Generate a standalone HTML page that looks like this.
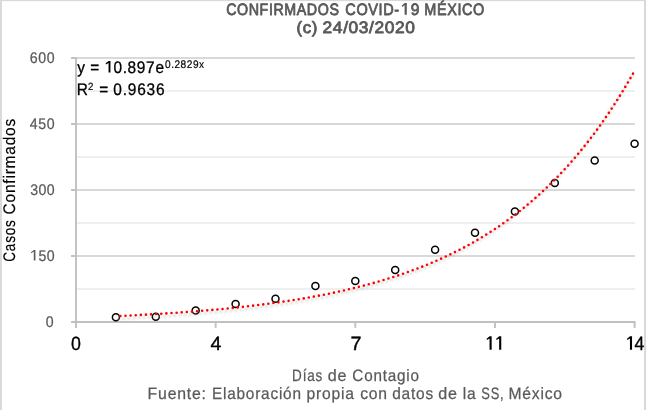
<!DOCTYPE html><html><head><meta charset="utf-8"><style>html,body{margin:0;padding:0;background:#fff;overflow:hidden;}svg{display:block;will-change:transform;}text{font-family:"Liberation Sans",sans-serif;white-space:pre;text-rendering:geometricPrecision;}</style></head><body>
<svg width="647" height="410" viewBox="0 0 647 410">
<defs><filter id="sh" x="-5%" y="-5%" width="110%" height="110%"><feGaussianBlur stdDeviation="0.8"/></filter></defs>
<rect width="647" height="410" fill="#fff"/>
<line x1="76.0" y1="289.00" x2="634.90" y2="289.00" stroke="#efefef" stroke-width="2"/>
<line x1="76.0" y1="223.00" x2="634.90" y2="223.00" stroke="#efefef" stroke-width="2"/>
<line x1="76.0" y1="157.00" x2="634.90" y2="157.00" stroke="#efefef" stroke-width="2"/>
<line x1="76.0" y1="91.00" x2="634.90" y2="91.00" stroke="#efefef" stroke-width="2"/>
<line x1="71.1" y1="256.00" x2="634.90" y2="256.00" stroke="#d9d9d9" stroke-width="1.9"/>
<line x1="71.1" y1="190.00" x2="634.90" y2="190.00" stroke="#d9d9d9" stroke-width="1.9"/>
<line x1="71.1" y1="124.00" x2="634.90" y2="124.00" stroke="#d9d9d9" stroke-width="1.9"/>
<line x1="71.1" y1="58.00" x2="634.90" y2="58.00" stroke="#d9d9d9" stroke-width="1.9"/>
<line x1="76.0" y1="57.05" x2="76.0" y2="327.90" stroke="#c0c0c0" stroke-width="1.9"/>
<line x1="71.1" y1="322.0" x2="635.50" y2="322.0" stroke="#c0c0c0" stroke-width="1.9"/>
<line x1="71.1" y1="256.00" x2="76.0" y2="256.00" stroke="#c0c0c0" stroke-width="1.9"/>
<line x1="71.1" y1="190.00" x2="76.0" y2="190.00" stroke="#c0c0c0" stroke-width="1.9"/>
<line x1="71.1" y1="124.00" x2="76.0" y2="124.00" stroke="#c0c0c0" stroke-width="1.9"/>
<line x1="71.1" y1="58.00" x2="76.0" y2="58.00" stroke="#c0c0c0" stroke-width="1.9"/>
<line x1="215.65" y1="322.0" x2="215.65" y2="327.9" stroke="#c0c0c0" stroke-width="1.9"/>
<line x1="355.30" y1="322.0" x2="355.30" y2="327.9" stroke="#c0c0c0" stroke-width="1.9"/>
<line x1="494.95" y1="322.0" x2="494.95" y2="327.9" stroke="#c0c0c0" stroke-width="1.9"/>
<line x1="634.60" y1="322.0" x2="634.60" y2="327.9" stroke="#c0c0c0" stroke-width="1.9"/>
<circle cx="115.90" cy="317.16" r="3.5" fill="#fff" stroke="#000" stroke-width="1.5"/>
<circle cx="155.80" cy="316.72" r="3.5" fill="#fff" stroke="#000" stroke-width="1.5"/>
<circle cx="195.70" cy="310.56" r="3.5" fill="#fff" stroke="#000" stroke-width="1.5"/>
<circle cx="235.60" cy="303.96" r="3.5" fill="#fff" stroke="#000" stroke-width="1.5"/>
<circle cx="275.50" cy="298.68" r="3.5" fill="#fff" stroke="#000" stroke-width="1.5"/>
<circle cx="315.40" cy="285.92" r="3.5" fill="#fff" stroke="#000" stroke-width="1.5"/>
<circle cx="355.30" cy="281.08" r="3.5" fill="#fff" stroke="#000" stroke-width="1.5"/>
<circle cx="395.20" cy="270.08" r="3.5" fill="#fff" stroke="#000" stroke-width="1.5"/>
<circle cx="435.10" cy="249.84" r="3.5" fill="#fff" stroke="#000" stroke-width="1.5"/>
<circle cx="475.00" cy="232.68" r="3.5" fill="#fff" stroke="#000" stroke-width="1.5"/>
<circle cx="514.90" cy="211.56" r="3.5" fill="#fff" stroke="#000" stroke-width="1.5"/>
<circle cx="554.80" cy="182.96" r="3.5" fill="#fff" stroke="#000" stroke-width="1.5"/>
<circle cx="594.70" cy="160.52" r="3.5" fill="#fff" stroke="#000" stroke-width="1.5"/>
<circle cx="634.60" cy="143.80" r="3.5" fill="#fff" stroke="#000" stroke-width="1.5"/>
<path d="M115.90,316.14 L118.49,316.02 L121.09,315.90 L123.68,315.78 L126.27,315.65 L128.87,315.52 L131.46,315.40 L134.05,315.26 L136.65,315.13 L139.24,314.99 L141.83,314.85 L144.43,314.71 L147.02,314.57 L149.62,314.42 L152.21,314.27 L154.80,314.12 L157.40,313.96 L159.99,313.80 L162.58,313.64 L165.18,313.48 L167.77,313.31 L170.36,313.14 L172.96,312.97 L175.55,312.79 L178.14,312.61 L180.74,312.42 L183.33,312.24 L185.92,312.05 L188.52,311.85 L191.11,311.66 L193.70,311.45 L196.30,311.25 L198.89,311.04 L201.49,310.83 L204.08,310.61 L206.67,310.39 L209.27,310.17 L211.86,309.94 L214.45,309.70 L217.05,309.47 L219.64,309.22 L222.23,308.98 L224.83,308.73 L227.42,308.47 L230.01,308.21 L232.61,307.95 L235.20,307.68 L237.79,307.40 L240.39,307.12 L242.98,306.83 L245.57,306.54 L248.17,306.25 L250.76,305.95 L253.36,305.64 L255.95,305.33 L258.54,305.01 L261.14,304.68 L263.73,304.35 L266.32,304.02 L268.92,303.67 L271.51,303.32 L274.10,302.97 L276.70,302.60 L279.29,302.24 L281.88,301.86 L284.48,301.48 L287.07,301.09 L289.66,300.69 L292.26,300.28 L294.85,299.87 L297.44,299.45 L300.04,299.02 L302.63,298.59 L305.23,298.14 L307.82,297.69 L310.41,297.23 L313.01,296.76 L315.60,296.29 L318.19,295.80 L320.79,295.30 L323.38,294.80 L325.97,294.28 L328.57,293.76 L331.16,293.23 L333.75,292.68 L336.35,292.13 L338.94,291.57 L341.53,290.99 L344.13,290.41 L346.72,289.81 L349.31,289.21 L351.91,288.59 L354.50,287.96 L357.10,287.32 L359.69,286.66 L362.28,286.00 L364.88,285.32 L367.47,284.63 L370.06,283.93 L372.66,283.21 L375.25,282.48 L377.84,281.74 L380.44,280.99 L383.03,280.22 L385.62,279.43 L388.22,278.63 L390.81,277.82 L393.40,276.99 L396.00,276.14 L398.59,275.28 L401.19,274.41 L403.78,273.51 L406.37,272.61 L408.97,271.68 L411.56,270.74 L414.15,269.78 L416.75,268.80 L419.34,267.80 L421.93,266.78 L424.53,265.75 L427.12,264.70 L429.71,263.63 L432.31,262.53 L434.90,261.42 L437.49,260.29 L440.09,259.13 L442.68,257.96 L445.27,256.76 L447.87,255.54 L450.46,254.29 L453.05,253.03 L455.65,251.74 L458.24,250.43 L460.84,249.09 L463.43,247.73 L466.02,246.34 L468.62,244.93 L471.21,243.49 L473.80,242.02 L476.40,240.53 L478.99,239.00 L481.58,237.45 L484.18,235.88 L486.77,234.27 L489.36,232.63 L491.96,230.96 L494.55,229.26 L497.14,227.53 L499.74,225.77 L502.33,223.98 L504.93,222.15 L507.52,220.29 L510.11,218.39 L512.71,216.46 L515.30,214.49 L517.89,212.48 L520.49,210.44 L523.08,208.36 L525.67,206.24 L528.27,204.09 L530.86,201.89 L533.45,199.65 L536.05,197.37 L538.64,195.05 L541.23,192.68 L543.83,190.27 L546.42,187.82 L549.01,185.32 L551.61,182.78 L554.20,180.18 L556.80,177.54 L559.39,174.85 L561.98,172.11 L564.58,169.32 L567.17,166.48 L569.76,163.58 L572.36,160.63 L574.95,157.63 L577.54,154.57 L580.14,151.45 L582.73,148.28 L585.32,145.04 L587.92,141.75 L590.51,138.40 L593.10,134.98 L595.70,131.50 L598.29,127.95 L600.88,124.34 L603.48,120.67 L606.07,116.92 L608.66,113.11 L611.26,109.22 L613.85,105.26 L616.45,101.23 L619.04,97.12 L621.63,92.94 L624.23,88.68 L626.82,84.34 L629.41,79.92 L632.01,75.42 L634.60,70.83" fill="none" stroke="#a8a8a8" stroke-width="2.6" stroke-linecap="round" stroke-dasharray="0 5.12" stroke-dashoffset="0.62" transform="translate(-1.8,2.9)" filter="url(#sh)" opacity="0.55"/>
<path d="M115.90,316.14 L118.49,316.02 L121.09,315.90 L123.68,315.78 L126.27,315.65 L128.87,315.52 L131.46,315.40 L134.05,315.26 L136.65,315.13 L139.24,314.99 L141.83,314.85 L144.43,314.71 L147.02,314.57 L149.62,314.42 L152.21,314.27 L154.80,314.12 L157.40,313.96 L159.99,313.80 L162.58,313.64 L165.18,313.48 L167.77,313.31 L170.36,313.14 L172.96,312.97 L175.55,312.79 L178.14,312.61 L180.74,312.42 L183.33,312.24 L185.92,312.05 L188.52,311.85 L191.11,311.66 L193.70,311.45 L196.30,311.25 L198.89,311.04 L201.49,310.83 L204.08,310.61 L206.67,310.39 L209.27,310.17 L211.86,309.94 L214.45,309.70 L217.05,309.47 L219.64,309.22 L222.23,308.98 L224.83,308.73 L227.42,308.47 L230.01,308.21 L232.61,307.95 L235.20,307.68 L237.79,307.40 L240.39,307.12 L242.98,306.83 L245.57,306.54 L248.17,306.25 L250.76,305.95 L253.36,305.64 L255.95,305.33 L258.54,305.01 L261.14,304.68 L263.73,304.35 L266.32,304.02 L268.92,303.67 L271.51,303.32 L274.10,302.97 L276.70,302.60 L279.29,302.24 L281.88,301.86 L284.48,301.48 L287.07,301.09 L289.66,300.69 L292.26,300.28 L294.85,299.87 L297.44,299.45 L300.04,299.02 L302.63,298.59 L305.23,298.14 L307.82,297.69 L310.41,297.23 L313.01,296.76 L315.60,296.29 L318.19,295.80 L320.79,295.30 L323.38,294.80 L325.97,294.28 L328.57,293.76 L331.16,293.23 L333.75,292.68 L336.35,292.13 L338.94,291.57 L341.53,290.99 L344.13,290.41 L346.72,289.81 L349.31,289.21 L351.91,288.59 L354.50,287.96 L357.10,287.32 L359.69,286.66 L362.28,286.00 L364.88,285.32 L367.47,284.63 L370.06,283.93 L372.66,283.21 L375.25,282.48 L377.84,281.74 L380.44,280.99 L383.03,280.22 L385.62,279.43 L388.22,278.63 L390.81,277.82 L393.40,276.99 L396.00,276.14 L398.59,275.28 L401.19,274.41 L403.78,273.51 L406.37,272.61 L408.97,271.68 L411.56,270.74 L414.15,269.78 L416.75,268.80 L419.34,267.80 L421.93,266.78 L424.53,265.75 L427.12,264.70 L429.71,263.63 L432.31,262.53 L434.90,261.42 L437.49,260.29 L440.09,259.13 L442.68,257.96 L445.27,256.76 L447.87,255.54 L450.46,254.29 L453.05,253.03 L455.65,251.74 L458.24,250.43 L460.84,249.09 L463.43,247.73 L466.02,246.34 L468.62,244.93 L471.21,243.49 L473.80,242.02 L476.40,240.53 L478.99,239.00 L481.58,237.45 L484.18,235.88 L486.77,234.27 L489.36,232.63 L491.96,230.96 L494.55,229.26 L497.14,227.53 L499.74,225.77 L502.33,223.98 L504.93,222.15 L507.52,220.29 L510.11,218.39 L512.71,216.46 L515.30,214.49 L517.89,212.48 L520.49,210.44 L523.08,208.36 L525.67,206.24 L528.27,204.09 L530.86,201.89 L533.45,199.65 L536.05,197.37 L538.64,195.05 L541.23,192.68 L543.83,190.27 L546.42,187.82 L549.01,185.32 L551.61,182.78 L554.20,180.18 L556.80,177.54 L559.39,174.85 L561.98,172.11 L564.58,169.32 L567.17,166.48 L569.76,163.58 L572.36,160.63 L574.95,157.63 L577.54,154.57 L580.14,151.45 L582.73,148.28 L585.32,145.04 L587.92,141.75 L590.51,138.40 L593.10,134.98 L595.70,131.50 L598.29,127.95 L600.88,124.34 L603.48,120.67 L606.07,116.92 L608.66,113.11 L611.26,109.22 L613.85,105.26 L616.45,101.23 L619.04,97.12 L621.63,92.94 L624.23,88.68 L626.82,84.34 L629.41,79.92 L632.01,75.42 L634.60,70.83" fill="none" stroke="#ff0000" stroke-width="2.6" stroke-linecap="round" stroke-dasharray="0 5.12" stroke-dashoffset="0.62"/>
<rect x="0" y="0" width="1.9" height="410" fill="#d9d9d9"/>
<rect x="0" y="0" width="646" height="1.1" fill="#d9d9d9"/>
<rect x="644" y="0" width="2.1" height="410" fill="#d9d9d9"/>
<text transform="scale(0.8628,1)" x="262.13" y="15" font-size="16.5" fill="#595959" stroke="#595959" stroke-width="0.8" stroke-linejoin="round" textLength="130.70" lengthAdjust="spacing">CONFIRMADOS</text>
<text transform="scale(0.8793,1)" x="392.76" y="15" font-size="16.5" fill="#595959" stroke="#595959" stroke-width="0.8" stroke-linejoin="round" textLength="61.16" lengthAdjust="spacing">COVID-</text>
<text transform="scale(0.9447,1)" x="434.82" y="15" font-size="16.5" fill="#595959" stroke="#595959" stroke-width="0.8" stroke-linejoin="round" textLength="9.18" lengthAdjust="spacingAndGlyphs">9</text>
<text transform="scale(0.8769,1)" x="483.86" y="15" font-size="16.5" fill="#595959" stroke="#595959" stroke-width="0.8" stroke-linejoin="round" textLength="68.51" lengthAdjust="spacing">MÉXICO</text>
<path d="M404.60,14.80 L404.60,5.20 L402.20,7.00 L401.90,5.46 L404.70,3.00 L406.80,3.00 L406.80,14.80Z" fill="#595959"/>
<text transform="scale(1.0179,1)" x="291.26" y="33" font-size="16.5" fill="#595959" stroke="#595959" stroke-width="0.8" stroke-linejoin="round" textLength="20.42" lengthAdjust="spacing">(c)</text>
<text transform="scale(1.0529,1)" x="306.41" y="33" font-size="16.5" fill="#595959" stroke="#595959" stroke-width="0.8" stroke-linejoin="round" textLength="87.71" lengthAdjust="spacing">24/03/2020</text>
<text transform="scale(0.92,1)" x="49.83" y="326.60" font-size="15.4" fill="#595959" stroke="#595959" stroke-width="0.25" stroke-linejoin="round" textLength="8.56" lengthAdjust="spacingAndGlyphs">0</text>
<text transform="scale(0.92,1)" x="41.77" y="260.60" font-size="15.4" fill="#595959" stroke="#595959" stroke-width="0.25" stroke-linejoin="round" textLength="17.52" lengthAdjust="spacing">50</text>
<text transform="scale(0.92,1)" x="32.78" y="194.60" font-size="15.4" fill="#595959" stroke="#595959" stroke-width="0.25" stroke-linejoin="round" textLength="26.51" lengthAdjust="spacing">300</text>
<text transform="scale(0.92,1)" x="32.47" y="128.60" font-size="15.4" fill="#595959" stroke="#595959" stroke-width="0.25" stroke-linejoin="round" textLength="26.82" lengthAdjust="spacing">450</text>
<text transform="scale(0.92,1)" x="32.26" y="62.60" font-size="15.4" fill="#595959" stroke="#595959" stroke-width="0.25" stroke-linejoin="round" textLength="27.04" lengthAdjust="spacing">600</text>
<path d="M33.80,260.60 L33.80,251.50 L31.30,253.30 L31.00,252.18 L33.90,249.90 L35.40,249.90 L35.40,260.60Z" fill="#595959"/>
<text x="70.91" y="350" font-size="19.2" fill="#000" stroke="#000" stroke-width="0.35" stroke-linejoin="round" textLength="9.89" lengthAdjust="spacingAndGlyphs">0</text>
<text x="210.55" y="350" font-size="19.2" fill="#000" stroke="#000" stroke-width="0.35" stroke-linejoin="round" textLength="10.82" lengthAdjust="spacingAndGlyphs">4</text>
<text x="350.48" y="350" font-size="19.2" fill="#000" stroke="#000" stroke-width="0.35" stroke-linejoin="round" textLength="11.01" lengthAdjust="spacingAndGlyphs">7</text>
<path d="M489.55,349.70 L489.55,338.40 L486.90,340.10 L486.60,338.63 L489.65,336.30 L491.65,336.30 L491.65,349.70Z" fill="#000"/>
<path d="M499.15,349.70 L499.15,338.40 L496.50,340.10 L496.20,338.63 L499.25,336.30 L501.25,336.30 L501.25,349.70Z" fill="#000"/>
<path d="M629.95,349.70 L629.95,338.40 L627.30,340.10 L627.00,338.63 L630.05,336.30 L632.05,336.30 L632.05,349.70Z" fill="#000"/>
<text x="634.59" y="350" font-size="19.2" fill="#000" stroke="#000" stroke-width="0.35" stroke-linejoin="round" textLength="9.82" lengthAdjust="spacingAndGlyphs">4</text>
<g transform="translate(15.3,261.2) rotate(-90)">
<text transform="scale(0.8092,1)" x="-0.76" y="0" font-size="16.8" fill="#000" stroke="#000" stroke-width="0.15" stroke-linejoin="round" textLength="51.57" lengthAdjust="spacing">Casos</text>
<text transform="scale(0.9197,1)" x="50.87" y="0" font-size="16.8" fill="#000" stroke="#000" stroke-width="0.15" stroke-linejoin="round" textLength="103.94" lengthAdjust="spacing">Confirmados</text>
</g>
<text transform="scale(0.8178,1)" x="357.21" y="381" font-size="16.5" fill="#595959" stroke="#595959" stroke-width="0.25" stroke-linejoin="round" textLength="36.86" lengthAdjust="spacing">Días</text>
<text transform="scale(0.9777,1)" x="335.32" y="381" font-size="16.5" fill="#595959" stroke="#595959" stroke-width="0.25" stroke-linejoin="round" textLength="19.17" lengthAdjust="spacing">de</text>
<text transform="scale(0.9246,1)" x="381.10" y="381" font-size="16.5" fill="#595959" stroke="#595959" stroke-width="0.25" stroke-linejoin="round" textLength="72.11" lengthAdjust="spacing">Contagio</text>
<text transform="scale(0.9577,1)" x="154.14" y="399" font-size="16.5" fill="#595959" stroke="#595959" stroke-width="0.25" stroke-linejoin="round" textLength="60.97" lengthAdjust="spacing">Fuente:</text>
<text transform="scale(0.9296,1)" x="228.02" y="399" font-size="16.5" fill="#595959" stroke="#595959" stroke-width="0.25" stroke-linejoin="round" textLength="95.75" lengthAdjust="spacing">Elaboración</text>
<text transform="scale(0.9475,1)" x="323.61" y="399" font-size="16.5" fill="#595959" stroke="#595959" stroke-width="0.25" stroke-linejoin="round" textLength="50.09" lengthAdjust="spacing">propia</text>
<text transform="scale(0.9525,1)" x="378.14" y="399" font-size="16.5" fill="#595959" stroke="#595959" stroke-width="0.25" stroke-linejoin="round" textLength="28.28" lengthAdjust="spacing">con</text>
<text transform="scale(0.9354,1)" x="419.27" y="399" font-size="16.5" fill="#595959" stroke="#595959" stroke-width="0.25" stroke-linejoin="round" textLength="43.78" lengthAdjust="spacing">datos</text>
<text transform="scale(0.9777,1)" x="448.23" y="399" font-size="16.5" fill="#595959" stroke="#595959" stroke-width="0.25" stroke-linejoin="round" textLength="19.17" lengthAdjust="spacing">de</text>
<text transform="scale(0.9420,1)" x="491.28" y="399" font-size="16.5" fill="#595959" stroke="#595959" stroke-width="0.25" stroke-linejoin="round" textLength="13.69" lengthAdjust="spacing">la</text>
<text transform="scale(0.7819,1)" x="615.59" y="399" font-size="16.5" fill="#595959" stroke="#595959" stroke-width="0.25" stroke-linejoin="round" textLength="28.64" lengthAdjust="spacing">SS,</text>
<text transform="scale(0.9489,1)" x="535.83" y="399" font-size="16.5" fill="#595959" stroke="#595959" stroke-width="0.25" stroke-linejoin="round" textLength="56.48" lengthAdjust="spacing">México</text>
<path d="M108.55,72.60 L108.55,63.00 L106.00,64.60 L105.70,63.27 L108.65,61.10 L110.45,61.10 L110.45,72.60Z" fill="#000"/>
<text transform="scale(0.92,1)" x="83.87" y="72.8" font-size="16.8" fill="#000" stroke="#000" stroke-width="0.3" stroke-linejoin="round" textLength="8.40" lengthAdjust="spacingAndGlyphs">y</text>
<text transform="scale(0.92,1)" x="98.20" y="72.8" font-size="16.8" fill="#000" stroke="#000" stroke-width="0.3" stroke-linejoin="round" textLength="9.81" lengthAdjust="spacingAndGlyphs">=</text>
<text transform="scale(0.92,1)" x="123.26" y="72.8" font-size="16.8" fill="#000" stroke="#000" stroke-width="0.3" stroke-linejoin="round" textLength="54.99" lengthAdjust="spacing">0.897e</text>
<text transform="scale(0.92,1)" x="179.35" y="68.4" font-size="11" fill="#000" stroke="#000" stroke-width="0.2" stroke-linejoin="round" textLength="42.50" lengthAdjust="spacing">0.2829x</text>
<text transform="scale(0.92,1)" x="83.30" y="94.7" font-size="16.8" fill="#000" stroke="#000" stroke-width="0.3" stroke-linejoin="round" textLength="12.13" lengthAdjust="spacingAndGlyphs">R</text>
<text transform="scale(0.92,1)" x="107.88" y="94.7" font-size="16.8" fill="#000" stroke="#000" stroke-width="0.3" stroke-linejoin="round" textLength="9.81" lengthAdjust="spacingAndGlyphs">=</text>
<text transform="scale(0.92,1)" x="123.15" y="94.7" font-size="16.8" fill="#000" stroke="#000" stroke-width="0.3" stroke-linejoin="round" textLength="55.74" lengthAdjust="spacing">0.9636</text>
<text transform="scale(0.92,1)" x="95.67" y="90.1" font-size="10.5" fill="#000" stroke="#000" stroke-width="0.2" stroke-linejoin="round" textLength="5.84" lengthAdjust="spacingAndGlyphs">2</text>
</svg></body></html>
